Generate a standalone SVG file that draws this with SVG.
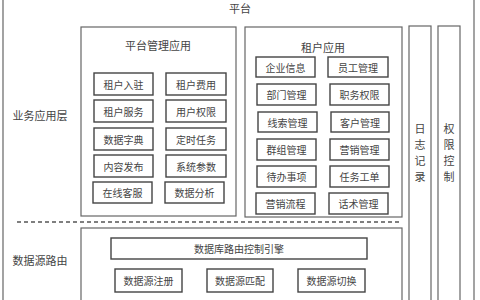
<svg xmlns="http://www.w3.org/2000/svg" width="480" height="300" viewBox="0 0 480 300">
<style>
text{font-family:"Noto Sans CJK SC","Noto Sans",sans-serif;fill:#444;text-anchor:middle;dominant-baseline:central}
.frame{fill:none;stroke:#666;stroke-width:1.2}
.box{fill:#fff;stroke:#444;stroke-width:1.4}
.t{font-size:10px}
.h{font-size:11px}
.dash{stroke:#555;stroke-width:1.5;stroke-dasharray:4 3;fill:none}
</style>
<rect width="480" height="300" fill="#fff"/>
<g id="platform">
<rect class="frame" x="3" y="-2" width="471" height="304"/>
<text class="h" x="240" y="8">平台</text>
</g>
<g id="layer-labels">
<text class="h" x="40" y="115">业务应用层</text>
<text class="h" x="40" y="260">数据源路由</text>
</g>
<g id="connectors">
<line class="dash" x1="17" y1="222" x2="402" y2="222"/>
</g>
<g id="platform-mgmt">
<rect class="frame" x="81" y="27" width="155" height="189"/>
<text class="h" x="158" y="45">平台管理应用</text>
<g id="pm-boxes">
<rect class="box" x="94" y="73" width="59" height="22"/><text class="t" x="123.5" y="84">租户入驻</text>
<rect class="box" x="166" y="73" width="60" height="22"/><text class="t" x="196" y="84">租户费用</text>
<rect class="box" x="94" y="100" width="59" height="22"/><text class="t" x="123.5" y="111">租户服务</text>
<rect class="box" x="166" y="100" width="60" height="22"/><text class="t" x="196" y="111">用户权限</text>
<rect class="box" x="94" y="128" width="59" height="22"/><text class="t" x="123.5" y="139">数据字典</text>
<rect class="box" x="166" y="128" width="60" height="22"/><text class="t" x="196" y="139">定时任务</text>
<rect class="box" x="94" y="155" width="59" height="22"/><text class="t" x="123.5" y="166">内容发布</text>
<rect class="box" x="166" y="155" width="60" height="22"/><text class="t" x="196" y="166">系统参数</text>
<rect class="box" x="93" y="182" width="59" height="21"/><text class="t" x="122.5" y="192.5">在线客服</text>
<rect class="box" x="165" y="182" width="59" height="21"/><text class="t" x="194.5" y="192.5">数据分析</text>
</g>
</g>
<g id="tenant-app">
<rect class="frame" x="245" y="27" width="157" height="190"/>
<text class="h" x="323" y="47">租户应用</text>
<g id="ta-boxes">
<rect class="box" x="256" y="57" width="59" height="20"/><text class="t" x="285.5" y="67">企业信息</text>
<rect class="box" x="328" y="57" width="60" height="20"/><text class="t" x="358" y="67">员工管理</text>
<rect class="box" x="257" y="84" width="59" height="21"/><text class="t" x="286.5" y="94.5">部门管理</text>
<rect class="box" x="330" y="84" width="59" height="21"/><text class="t" x="359.5" y="94.5">职务权限</text>
<rect class="box" x="258" y="112" width="59" height="20"/><text class="t" x="287.5" y="122">线索管理</text>
<rect class="box" x="331" y="112" width="58" height="20"/><text class="t" x="360" y="122">客户管理</text>
<rect class="box" x="257" y="139" width="59" height="21"/><text class="t" x="286.5" y="149.5">群组管理</text>
<rect class="box" x="330" y="139" width="59" height="21"/><text class="t" x="359.5" y="149.5">营销管理</text>
<rect class="box" x="257" y="166" width="59" height="21"/><text class="t" x="286.5" y="176.5">待办事项</text>
<rect class="box" x="330" y="166" width="59" height="21"/><text class="t" x="359.5" y="176.5">任务工单</text>
<rect class="box" x="256" y="193" width="59" height="21"/><text class="t" x="285.5" y="203.5">营销流程</text>
<rect class="box" x="329" y="193" width="59" height="21"/><text class="t" x="358.5" y="203.5">话术管理</text>
</g>
</g>
<g id="log">
<rect class="frame" x="409" y="26" width="22" height="276"/>
<text class="h" x="420" y="128">日</text>
<text class="h" x="420" y="144">志</text>
<text class="h" x="420" y="160">记</text>
<text class="h" x="420" y="176">录</text>
</g>
<g id="permission">
<rect class="frame" x="438" y="26" width="22" height="276"/>
<text class="h" x="449" y="128">权</text>
<text class="h" x="449" y="144">限</text>
<text class="h" x="449" y="160">控</text>
<text class="h" x="449" y="176">制</text>
</g>
<g id="datasource-routing">
<rect class="frame" x="81" y="228" width="321" height="74"/>
<rect class="box" x="111" y="238" width="256" height="21"/><text class="t" x="239" y="248.5">数据库路由控制引擎</text>
<rect class="box" x="115" y="269" width="67" height="23"/><text class="t" x="148.5" y="280.5">数据源注册</text>
<rect class="box" x="207" y="269" width="66" height="23"/><text class="t" x="240" y="280.5">数据源匹配</text>
<rect class="box" x="298" y="269" width="67" height="23"/><text class="t" x="331.5" y="280.5">数据源切换</text>
</g>
</svg>
